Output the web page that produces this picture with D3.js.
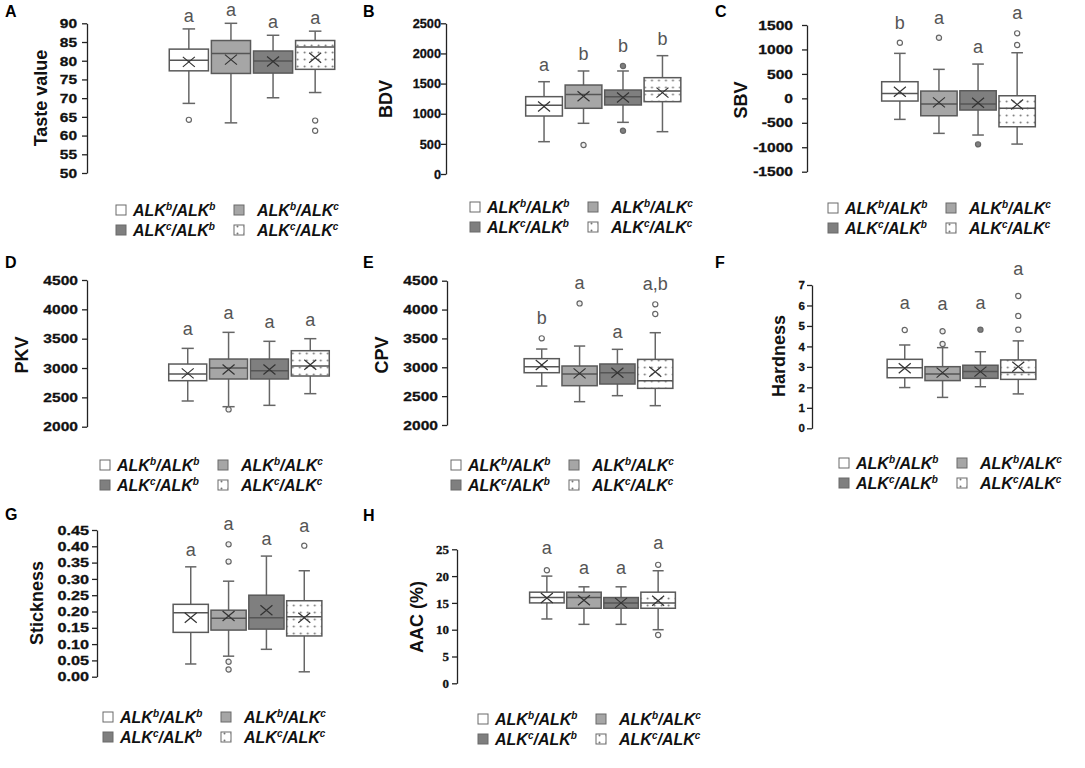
<!DOCTYPE html>
<html>
<head>
<meta charset="utf-8">
<script src="https://cdn.jsdelivr.net/npm/d3@7"></script>
<style>
  body { margin: 0; background: #fff; }
  svg text { font-family: Arial, "Liberation Sans", sans-serif; }
</style>
</head>
<body>
<div id="chart"></div>
<script>
// genotype groups, same order in every panel
const genotypes = ["ALKb/ALKb", "ALKb/ALKc", "ALKc/ALKb", "ALKc/ALKc"];

// each box: [low whisker, Q1, median, Q3, high whisker, mean]
const tasteStats = [[68.6, 77.3, 80.1, 83.1, 88.5, 79.7], [63.4, 76.6, 81.9, 85.4, 90.0, 80.3], [70.1, 76.7, 79.9, 82.6, 86.8, 79.8], [71.5, 77.7, 83.7, 85.4, 87.9, 80.8]];
const tasteOutliers = [[64.2], [], [], [64.0, 61.3]];
const tasteLetters = ["a", "a", "a", "a"];
const tasteTicks = [50, 55, 60, 65, 70, 75, 80, 85, 90];

const bdvStats = [[536, 962, 1140, 1283, 1531, 1120], [841, 1090, 1320, 1476, 1709, 1290], [857, 1145, 1280, 1393, 1709, 1270], [702, 1200, 1375, 1598, 1963, 1350]];
const bdvOutliers = [[], [481], [1792, 718], []];
const bdvLetters = ["a", "b", "b", "b"];
const bdvTicks = [0, 500, 1000, 1500, 2000, 2500];

const sbvStats = [[-430, -55, 100, 340, 920, 135], [-716, -356, -117, 149, 593, -82], [-750, -239, -117, 155, 701, -90], [-935, -581, -204, 53, 933, -125]];
const sbvOutliers = [[1137], [1240], [-941], [1329, 1090]];
const sbvLetters = ["b", "a", "a", "a"];
const sbvTicks = [-1500, -1000, -500, 0, 500, 1000, 1500];

const pkvStats = [[2438, 2784, 2898, 3068, 3335, 2909], [2341, 2813, 3000, 3153, 3608, 2975], [2364, 2813, 2955, 3153, 3455, 2975], [2563, 2864, 3034, 3295, 3500, 3055]];
const pkvOutliers = [[], [2295], [], []];
const pkvLetters = ["a", "a", "a", "a"];
const pkvTicks = [2000, 2500, 3000, 3500, 4000, 4500];

const cpvStats = [[2675, 2906, 3010, 3149, 3316, 3039], [2404, 2681, 2883, 3022, 3368, 2895], [2508, 2710, 2906, 3057, 3311, 2906], [2335, 2635, 2768, 3137, 3599, 2924]];
const cpvOutliers = [[3501], [4107], [], [4090, 3923]];
const cpvLetters = ["b", "a", "a", "a,b"];
const cpvTicks = [2000, 2500, 3000, 3500, 4000, 4500];

const hardStats = [[1.99, 2.47, 2.96, 3.37, 4.07, 2.93], [1.51, 2.33, 2.65, 3.01, 3.94, 2.72], [2.03, 2.44, 2.77, 3.08, 3.74, 2.77], [1.68, 2.39, 2.72, 3.34, 4.27, 3.01]];
const hardOutliers = [[4.80], [4.74, 4.12], [4.82], [6.46, 5.49, 4.82]];
const hardLetters = ["a", "a", "a", "a"];
const hardTicks = [0, 1, 2, 3, 4, 5, 6, 7];

const stickStats = [[0.039, 0.136, 0.196, 0.222, 0.337, 0.181], [0.063, 0.143, 0.179, 0.204, 0.293, 0.186], [0.084, 0.146, 0.181, 0.250, 0.370, 0.204], [0.015, 0.125, 0.184, 0.233, 0.325, 0.181]];
const stickOutliers = [[], [0.406, 0.353, 0.046, 0.022], [], [0.402]];
const stickLetters = ["a", "a", "a", "a"];
const stickTicks = [0, 0.05, 0.10, 0.15, 0.20, 0.25, 0.30, 0.35, 0.40, 0.45];

const aacStats = [[12, 15, 16, 17, 20, 15.9], [11, 14, 16, 17, 18, 15.5], [11, 14, 15, 16, 18, 15.0], [10, 14, 15, 17, 21, 15.4]];
const aacOutliers = [[21.1], [], [], [22.1, 9.0]];
const aacLetters = ["a", "a", "a", "a"];
const aacTicks = [0, 5, 10, 15, 20, 25];

// styles
const boxFills = ["#ffffff", "#a6a6a6", "#7f7f7f", "url(#dots)"];
const outlierFills = ["#ffffff", "#eeeeee", "#7f7f7f", "#ffffff"];

// layout of each panel on the page
const panels = [
  { tag: "A", title: "Taste value", stats: tasteStats, outliers: tasteOutliers, letters: tasteLetters, ticks: tasteTicks,
    axisX: 87, yTop: 23.3, yBottom: 173, boxes: [168, 336], legend: [116, 210], titleX: 47, titleY: 98, tagPos: [5, 17],
    tickSize: 13.5, stretch: 1.15, tickGap: 10, letterGap: 7 },
  { tag: "B", title: "BDV", stats: bdvStats, outliers: bdvOutliers, letters: bdvLetters, ticks: bdvTicks,
    axisX: 446, yTop: 23.3, yBottom: 174, boxes: [524.5, 682], legend: [470, 207], titleX: 392, titleY: 99, tagPos: [363, 17],
    tickSize: 13, stretch: 0.98, tickGap: 5, letterGap: 11 },
  { tag: "C", title: "SBV", stats: sbvStats, outliers: sbvOutliers, letters: sbvLetters, ticks: sbvTicks,
    axisX: 807, yTop: 25, yBottom: 171.7, boxes: [880.5, 1036.5], legend: [828, 208], titleX: 747, titleY: 100, tagPos: [715, 17],
    tickSize: 13, stretch: 1.2, tickGap: 14, letterGap: 11 },
  { tag: "D", title: "PKV", stats: pkvStats, outliers: pkvOutliers, letters: pkvLetters, ticks: pkvTicks,
    axisX: 87, yTop: 280, yBottom: 426.7, boxes: [167.5, 330.5], legend: [100, 465], titleX: 28, titleY: 355, tagPos: [5, 268],
    tickSize: 13, stretch: 1.2, tickGap: 9, letterGap: 13 },
  { tag: "E", title: "CPV", stats: cpvStats, outliers: cpvOutliers, letters: cpvLetters, ticks: cpvTicks,
    axisX: 447, yTop: 280.7, yBottom: 425, boxes: [523, 674], legend: [451, 465], titleX: 388, titleY: 355, tagPos: [363, 268],
    tickSize: 13, stretch: 1.2, tickGap: 9, letterGap: 11 },
  { tag: "F", title: "Hardness", stats: hardStats, outliers: hardOutliers, letters: hardLetters, ticks: hardTicks,
    axisX: 812, yTop: 285, yBottom: 428.3, boxes: [886, 1037], legend: [839, 463], titleX: 785, titleY: 356, tagPos: [715, 268],
    tickSize: 11.5, stretch: 1.0, tickGap: 7, letterGap: 18 },
  { tag: "G", title: "Stickness", stats: stickStats, outliers: stickOutliers, letters: stickLetters, ticks: stickTicks,
    axisX: 97, yTop: 530, yBottom: 676.7, boxes: [172, 323], legend: [103, 717], titleX: 43, titleY: 603, tagPos: [5, 520],
    tickSize: 13, stretch: 1.25, tickGap: 8, letterGap: 11, format: d3.format(".2f") },
  { tag: "H", title: "AAC (%)", stats: aacStats, outliers: aacOutliers, letters: aacLetters, ticks: aacTicks,
    axisX: 457, yTop: 549.3, yBottom: 683.3, boxes: [528.5, 676.5], legend: [478, 719], titleX: 423, titleY: 617, tagPos: [363, 521],
    tickSize: 13, stretch: 1.0, tickGap: 8, letterGap: 13, serif: true }
];

const svg = d3.select("#chart")
  .append("svg")
  .attr("width", 1085)
  .attr("height", 768);

// dotted fill for the last genotype
const pat = svg.append("defs")
  .append("pattern")
  .attr("id", "dots")
  .attr("patternUnits", "userSpaceOnUse")
  .attr("width", 7)
  .attr("height", 7);
pat.append("rect").attr("width", 7).attr("height", 7).attr("fill", "#fff");
pat.append("circle").attr("cx", 3.5).attr("cy", 3.5).attr("r", 1).attr("fill", "#777");

// "ALKb/ALKc" -> ALK with superscript b / ALK with superscript c
function genotypeText(sel, name) {
  const parts = name.split("/");
  parts.forEach((p, i) => {
    sel.append("tspan").attr("dy", i === 0 ? 0 : 6).text((i > 0 ? "/" : "") + p.slice(0, 3));
    sel.append("tspan").attr("dy", -6).attr("font-size", 10).text(p.slice(3));
  });
}

function drawPanel(p) {
  const g = svg.append("g");

  const y = d3.scaleLinear()
    .domain([p.ticks[0], p.ticks[p.ticks.length - 1]])
    .range([p.yBottom, p.yTop]);

  const x = d3.scaleBand()
    .domain(genotypes)
    .range(p.boxes)
    .paddingInner(0.07)
    .paddingOuter(0.03);

  const yAxis = d3.axisLeft(y)
    .tickValues(p.ticks)
    .tickSizeInner(5)
    .tickSizeOuter(0)
    .tickFormat(p.format || (d => String(d)));

  const ax = g.append("g")
    .attr("class", "y axis")
    .attr("transform", `translate(${p.axisX},0)`)
    .call(yAxis);
  ax.select(".domain").attr("stroke", "#222").attr("stroke-width", 1.3);
  ax.selectAll(".tick line").attr("stroke", "#222").attr("stroke-width", 1.3);
  // the original figure's tick labels are horizontally stretched
  ax.selectAll(".tick text")
    .attr("x", -p.tickGap / p.stretch)
    .attr("transform", `scale(${p.stretch},1)`)
    .attr("fill", "#111")
    .attr("stroke", "#111")
    .attr("stroke-width", 0.3)
    .attr("font-weight", "bold")
    .attr("font-size", p.tickSize)
    .style("font-family", p.serif ? "'Liberation Serif', 'Times New Roman', serif" : null);

  // axis title
  g.append("text")
    .attr("transform", `translate(${p.titleX},${p.titleY}) rotate(-90)`)
    .attr("text-anchor", "middle")
    .attr("font-size", 18)
    .attr("font-weight", "bold")
    .attr("fill", "#111")
    .text(p.title);

  // panel letter
  g.append("text")
    .attr("x", p.tagPos[0])
    .attr("y", p.tagPos[1])
    .attr("font-size", 16)
    .attr("font-weight", "bold")
    .text(p.tag);

  const bw = x.bandwidth();
  const cap = bw * 0.32;

  const boxes = g.append("g")
    .attr("class", "boxes")
    .selectAll(".box")
    .data(p.stats)
    .enter()
    .append("g")
    .attr("class", "box")
    .attr("transform", (d, i) => `translate(${x(genotypes[i]) + bw / 2},0)`);

  // whisker line, behind the box
  boxes.append("line")
    .attr("y1", d => y(d[0]))
    .attr("y2", d => y(d[4]))
    .attr("stroke", "#666")
    .attr("stroke-width", 1.5);
  boxes.selectAll(".cap")
    .data(d => [d[0], d[4]])
    .enter()
    .append("line")
    .attr("class", "cap")
    .attr("x1", -cap / 2)
    .attr("x2", cap / 2)
    .attr("y1", v => y(v))
    .attr("y2", v => y(v))
    .attr("stroke", "#666")
    .attr("stroke-width", 1.5);

  boxes.append("rect")
    .attr("x", -bw / 2)
    .attr("width", bw)
    .attr("y", d => y(d[3]))
    .attr("height", d => y(d[1]) - y(d[3]))
    .attr("fill", (d, i) => boxFills[i])
    .attr("stroke", "#5a5a5a")
    .attr("stroke-width", 1.5);

  boxes.append("line")
    .attr("x1", -bw / 2)
    .attr("x2", bw / 2)
    .attr("y1", d => y(d[2]))
    .attr("y2", d => y(d[2]))
    .attr("stroke", "#555")
    .attr("stroke-width", 1.5);

  // mean marker
  boxes.append("path")
    .attr("d", d => {
      const m = y(d[5]);
      return `M-6,${m - 5}L6,${m + 5}M-6,${m + 5}L6,${m - 5}`;
    })
    .attr("stroke", "#333")
    .attr("stroke-width", 1.2)
    .attr("fill", "none");

  boxes.each(function(d, i) {
    d3.select(this)
      .selectAll(".outlier")
      .data(p.outliers[i])
      .enter()
      .append("circle")
      .attr("class", "outlier")
      .attr("r", 2.6)
      .attr("cy", v => y(v))
      .attr("fill", outlierFills[i])
      .attr("stroke", "#666")
      .attr("stroke-width", 1.2);
  });

  // significance letters above the highest point of each group
  boxes.append("text")
    .attr("text-anchor", "middle")
    .attr("font-size", 18)
    .attr("fill", "#555")
    .attr("y", (d, i) => {
      const top = d3.max([d[4]].concat(p.outliers[i]));
      const extra = p.outliers[i].some(v => v === top) ? 3 : 0;
      return y(top) - extra - p.letterGap;
    })
    .text((d, i) => p.letters[i]);

  // legend, 2 x 2
  const legend = g.append("g")
    .attr("class", "legend")
    .selectAll(".item")
    .data(genotypes)
    .enter()
    .append("g")
    .attr("class", "item")
    .attr("transform", (d, i) => `translate(${p.legend[0] + (i % 2) * 118},${p.legend[1] + Math.floor(i / 2) * 20})`);
  legend.append("rect")
    .attr("x", 0)
    .attr("y", -5)
    .attr("width", 10)
    .attr("height", 10)
    .attr("fill", (d, i) => boxFills[i])
    .attr("stroke", "#6a6a6a")
    .attr("stroke-width", 1);
  legend.append("text")
    .attr("x", (d, i) => (i % 2 ? 23 : 17))
    .attr("y", 6)
    .attr("font-size", 16)
    .attr("font-weight", "bold")
    .attr("font-style", "italic")
    .attr("fill", "#111")
    .each(function(d) { genotypeText(d3.select(this), d); });
}

panels.forEach(drawPanel);
</script>
</body>
</html>
